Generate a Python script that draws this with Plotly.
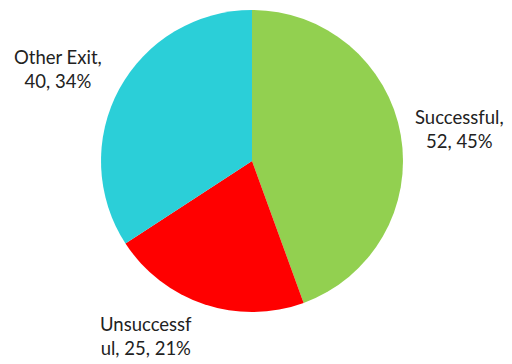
import plotly.graph_objects as go

# Exit outcomes
categories = ["Successful", "Unsuccessful", "Other Exit"]
counts = [52, 25, 40]
percents = ["45%", "21%", "34%"]
colors = ["#92D050", "#FF0000", "#2BCFD8"]

W, H = 512, 364
cx, cy, r = 252, 161, 151

fig = go.Figure(
    go.Pie(
        labels=categories,
        values=counts,
        marker=dict(colors=colors, line=dict(width=0)),
        sort=False,
        direction="clockwise",
        rotation=0,
        textinfo="none",
        hoverinfo="label+value+percent",
        domain=dict(
            x=[(cx - r) / W, (cx + r) / W],
            y=[(H - cy - r) / H, (H - cy + r) / H],
        ),
    )
)

# Data labels (split across two lines as in the chart)
label_lines = [
    (f"{categories[0]},", f"{counts[0]}, {percents[0]}", 459, 129),
    ("Unsuccessf", f"ul, {counts[1]}, {percents[1]}", 146, 336),
    (f"{categories[2]},", f"{counts[2]}, {percents[2]}", 58, 69),
]
for l1, l2, x, y in label_lines:
    fig.add_annotation(
        x=x / W, y=1 - y / H, xref="paper", yref="paper",
        xanchor="center", yanchor="middle",
        text=f"{l1}<br>{l2}", showarrow=False, align="center",
        font=dict(family="Lato, 'Open Sans', sans-serif", size=18.5, color="#222222"),
    )

fig.update_layout(
    width=W, height=H,
    margin=dict(l=0, r=0, t=0, b=0),
    paper_bgcolor="white",
    plot_bgcolor="white",
    showlegend=False,
)

fig.write_html("out.html")
